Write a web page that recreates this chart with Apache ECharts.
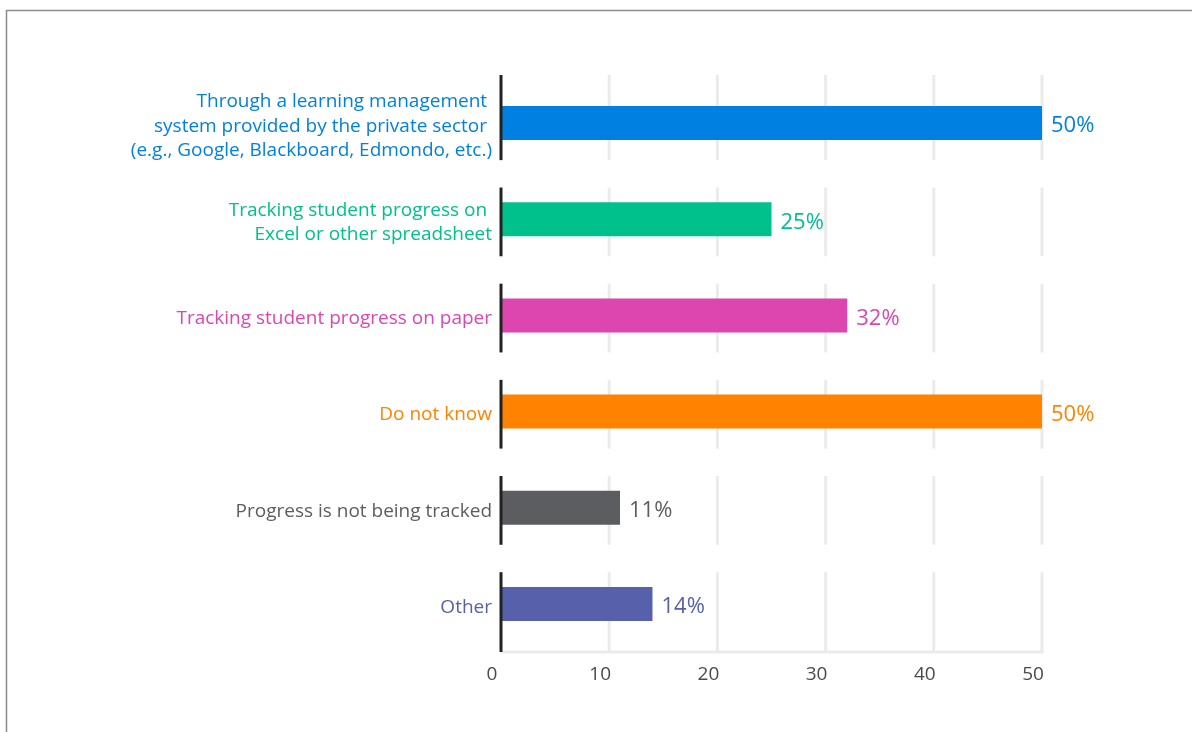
<!DOCTYPE html>
<html>
<head>
<meta charset="utf-8">
<script src="https://cdn.jsdelivr.net/npm/echarts@6/dist/echarts.min.js"></script>
<style>
  html, body { margin: 0; padding: 0; background: #ffffff; }
  #chart { width: 1192px; height: 732px; }
</style>
</head>
<body>
<div id="chart"></div>
<script>
// Survey answers: how student progress is tracked (share of respondents, %)
const categories = [
  'Through a learning management \nsystem provided by the private sector \n(e.g., Google, Blackboard, Edmondo, etc.)',
  'Tracking student progress on \nExcel or other spreadsheet',
  'Tracking student progress on paper',
  'Do not know',
  'Progress is not being tracked',
  'Other'
];
const values = [50, 25, 32, 50, 11, 14];
const colors = ['#0080e0', '#00c08b', '#dc46ae', '#ff8200', '#5c5d60', '#5761ab'];
const xTicks = [0, 10, 20, 30, 40, 50];

const FONT = '"Open Sans", "Noto Sans", sans-serif';
const chart = echarts.init(document.getElementById('chart'));

// Vertical extent of the per-category panel (grid segments + axis stub)
function panelExtent(api, idx) {
  const c = api.coord([0, idx])[1];
  const band = api.size([0, 1])[1];
  const top = idx === 0 ? c - band / 2 : c - band * 0.33;
  const bottom = idx === categories.length - 1 ? c + band / 2 : c + band * 0.385;
  return [top, bottom];
}

chart.setOption({
  animation: false,
  graphic: [{
    type: 'polyline',
    silent: true,
    shape: { points: [[6.5, 732], [6.5, 10.5], [1192, 10.5]] },
    style: { stroke: '#8c8c8c', lineWidth: 1.5, fill: null }
  }],
  grid: { left: 501, right: 150, top: 75, bottom: 80, containLabel: false },
  xAxis: {
    type: 'value',
    min: 0,
    max: 50,
    interval: 10,
    axisLine: { show: false },
    axisTick: { show: false },
    splitLine: { show: false },
    axisLabel: {
      margin: 13,
      fontSize: 19,
      color: '#4a4a4a',
      fontFamily: FONT,
      padding: [0, 18, 0, 0],
      formatter: v => (xTicks.includes(v) ? String(v) : '')
    }
  },
  yAxis: {
    type: 'category',
    inverse: true,
    data: categories,
    axisLine: { show: false },
    axisTick: { show: false },
    splitLine: { show: false },
    axisLabel: {
      margin: 9,
      fontSize: 19,
      fontFamily: FONT,
      align: 'right',
      verticalAlign: 'middle',
      color: (val, idx) => colors[idx],
      // a thin spacer line on top nudges each label block slightly downward
      formatter: v => '{gap| }\n' + v.split('\n').map(l => '{t|' + l + '}').join('\n'),
      rich: {
        gap: { fontSize: 7, lineHeight: 7 },
        t: { fontSize: 19, lineHeight: 24.5, fontFamily: FONT }
      }
    }
  },
  series: [
    {
      // light vertical gridlines, broken into one panel per category
      type: 'custom',
      z: 1,
      silent: true,
      data: categories.map((_, i) => [0, i]),
      renderItem: (params, api) => {
        const idx = params.dataIndex;
        const [top, bottom] = panelExtent(api, idx);
        const children = xTicks.filter(t => t > 0).map(t => {
          const x = api.coord([t, idx])[0];
          return {
            type: 'line',
            shape: { x1: x, y1: top, x2: x, y2: bottom },
            style: { stroke: '#ebebeb', lineWidth: 3 }
          };
        });
        if (idx === categories.length - 1) {
          const x0 = api.coord([0, idx])[0];
          const x1 = api.coord([50, idx])[0];
          children.push({
            type: 'line',
            shape: { x1: x0, y1: bottom, x2: x1 + 1.5, y2: bottom },
            style: { stroke: '#ebebeb', lineWidth: 3 }
          });
        }
        return { type: 'group', children };
      }
    },
    {
      type: 'bar',
      z: 2,
      barWidth: 34,
      data: values.map((v, i) => ({ value: v, itemStyle: { color: colors[i] } })),
      label: {
        show: true,
        position: 'right',
        distance: 9,
        offset: [0, 3],
        fontSize: 22,
        fontFamily: FONT,
        formatter: p => p.value + '%',
        color: 'inherit'
      }
    },
    {
      // dark baseline stub at zero for each category
      type: 'custom',
      z: 3,
      silent: true,
      data: categories.map((_, i) => [0, i]),
      renderItem: (params, api) => {
        const idx = params.dataIndex;
        const [top, bottom] = panelExtent(api, idx);
        const x = api.coord([0, idx])[0];
        return {
          type: 'line',
          shape: { x1: x, y1: top, x2: x, y2: bottom },
          style: { stroke: '#222222', lineWidth: 3 }
        };
      }
    }
  ]
});
</script>
</body>
</html>
